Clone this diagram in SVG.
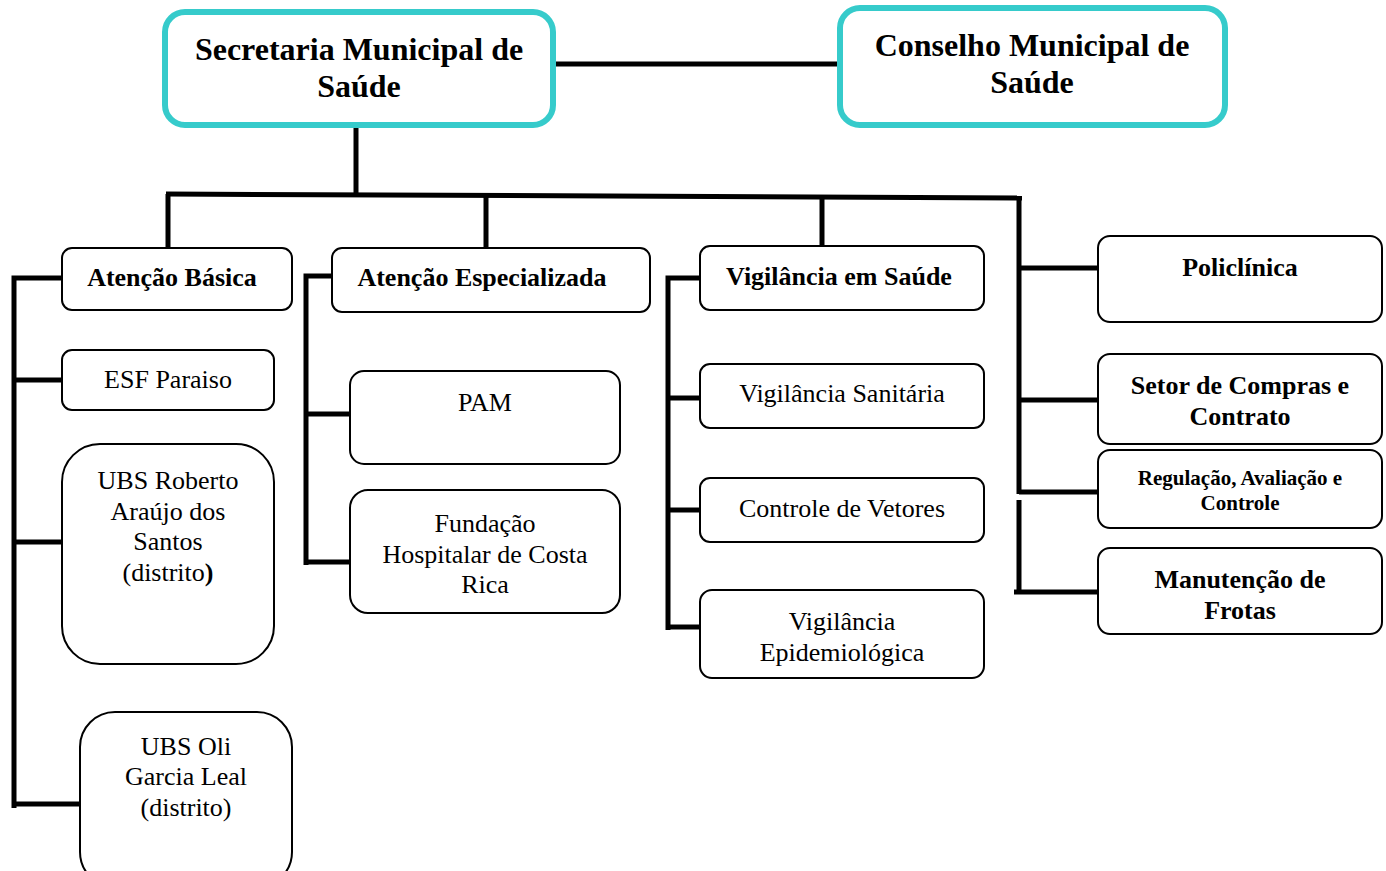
<svg xmlns="http://www.w3.org/2000/svg" width="1386" height="871" viewBox="0 0 1386 871">
<style>
.top{fill:#fff;stroke:#36CBCB;stroke-width:6}
.box{fill:#fff;stroke:#000;stroke-width:2}
.ln{stroke:#000;stroke-width:5;fill:none;stroke-linecap:butt}
text{font-family:"Liberation Serif","Times New Roman",serif;fill:#000;text-anchor:middle}
.b{font-weight:bold}
.h1{font-size:32px;font-weight:bold}
.h2{font-size:26px;font-weight:bold}
.r{font-size:26px}
.s{font-size:21px;font-weight:bold}
</style>
<rect width="1386" height="871" fill="#fff"/>
<g id="connectors">
<line class="ln" x1="553" y1="64" x2="840" y2="64"/>
<line class="ln" x1="356" y1="125" x2="356" y2="196"/>
<polyline class="ln" points="166,194 1022,198"/>
<line class="ln" x1="168" y1="194" x2="168" y2="248"/>
<line class="ln" x1="486" y1="196" x2="486" y2="248"/>
<line class="ln" x1="822" y1="197" x2="822" y2="246"/>
<line class="ln" x1="1019" y1="196" x2="1019" y2="494"/>
<line class="ln" x1="1019" y1="500" x2="1019" y2="594"/>
<polyline class="ln" points="62,278 14,278 14,808"/>
<line class="ln" x1="14" y1="380" x2="62" y2="380"/>
<line class="ln" x1="14" y1="542" x2="62" y2="542"/>
<line class="ln" x1="14" y1="804" x2="80" y2="804"/>
<polyline class="ln" points="332,276 306,276 306,565"/>
<line class="ln" x1="306" y1="414" x2="350" y2="414"/>
<line class="ln" x1="306" y1="562" x2="350" y2="562"/>
<polyline class="ln" points="700,278 668,278 668,630"/>
<line class="ln" x1="668" y1="398" x2="700" y2="398"/>
<line class="ln" x1="668" y1="510" x2="700" y2="510"/>
<line class="ln" x1="668" y1="627" x2="700" y2="627"/>
<line class="ln" x1="1019" y1="268" x2="1098" y2="268"/>
<line class="ln" x1="1019" y1="400" x2="1098" y2="400"/>
<line class="ln" x1="1019" y1="492" x2="1098" y2="492"/>
<line class="ln" x1="1014" y1="592" x2="1098" y2="592"/>
</g>
<g id="secretaria">
<rect class="top" x="165" y="12" width="388" height="113" rx="20"/>
<text class="h1" x="359" y="60">Secretaria Municipal de</text>
<text class="h1" x="359" y="97">Saúde</text>
</g>
<g id="conselho">
<rect class="top" x="840" y="8" width="385" height="117" rx="20"/>
<text class="h1" x="1032" y="56">Conselho Municipal de</text>
<text class="h1" x="1032" y="93">Saúde</text>
</g>
<g id="atencao-basica">
<rect class="box" x="62" y="248" width="230" height="62" rx="10"/>
<text class="h2" x="172" y="286">Atenção Básica</text>
</g>
<g id="esf-paraiso">
<rect class="box" x="62" y="350" width="212" height="60" rx="10"/>
<text class="r" x="168" y="388">ESF Paraiso</text>
</g>
<g id="ubs-roberto">
<rect class="box" x="62" y="444" width="212" height="220" rx="38"/>
<text class="r" x="168" y="489">UBS Roberto</text>
<text class="r" x="168" y="520">Araújo dos</text>
<text class="r" x="168" y="550">Santos</text>
<text class="r" x="168" y="581">(distrito<tspan class="b">)</tspan></text>
</g>
<g id="ubs-oli">
<rect class="box" x="80" y="712" width="212" height="175" rx="35"/>
<text class="r" x="186" y="755">UBS Oli</text>
<text class="r" x="186" y="785">Garcia Leal</text>
<text class="r" x="186" y="816">(distrito)</text>
</g>
<g id="atencao-especializada">
<rect class="box" x="332" y="248" width="318" height="64" rx="10"/>
<text class="h2" x="482" y="286">Atenção Especializada</text>
</g>
<g id="pam">
<rect class="box" x="350" y="371" width="270" height="93" rx="14"/>
<text class="r" x="485" y="411">PAM</text>
</g>
<g id="fundacao">
<rect class="box" x="350" y="490" width="270" height="123" rx="18"/>
<text class="r" x="485" y="532">Fundação</text>
<text class="r" x="485" y="563">Hospitalar de Costa</text>
<text class="r" x="485" y="593">Rica</text>
</g>
<g id="vigilancia-saude">
<rect class="box" x="700" y="246" width="284" height="64" rx="10"/>
<text class="h2" x="839" y="285">Vigilância em Saúde</text>
</g>
<g id="vigilancia-sanitaria">
<rect class="box" x="700" y="364" width="284" height="64" rx="10"/>
<text class="r" x="842" y="402">Vigilância Sanitária</text>
</g>
<g id="controle-vetores">
<rect class="box" x="700" y="478" width="284" height="64" rx="10"/>
<text class="r" x="842" y="517">Controle de Vetores</text>
</g>
<g id="vigilancia-epidemiologica">
<rect class="box" x="700" y="590" width="284" height="88" rx="12"/>
<text class="r" x="842" y="630">Vigilância</text>
<text class="r" x="842" y="661">Epidemiológica</text>
</g>
<g id="policlinica">
<rect class="box" x="1098" y="236" width="284" height="86" rx="12"/>
<text class="h2" x="1240" y="276">Policlínica</text>
</g>
<g id="setor-compras">
<rect class="box" x="1098" y="354" width="284" height="90" rx="12"/>
<text class="h2" x="1240" y="394">Setor de Compras e</text>
<text class="h2" x="1240" y="425">Contrato</text>
</g>
<g id="regulacao">
<rect class="box" x="1098" y="450" width="284" height="78" rx="12"/>
<text class="s" x="1240" y="485">Regulação, Avaliação e</text>
<text class="s" x="1240" y="510">Controle</text>
</g>
<g id="manutencao">
<rect class="box" x="1098" y="548" width="284" height="86" rx="12"/>
<text class="h2" x="1240" y="588">Manutenção de</text>
<text class="h2" x="1240" y="619">Frotas</text>
</g>
</svg>
